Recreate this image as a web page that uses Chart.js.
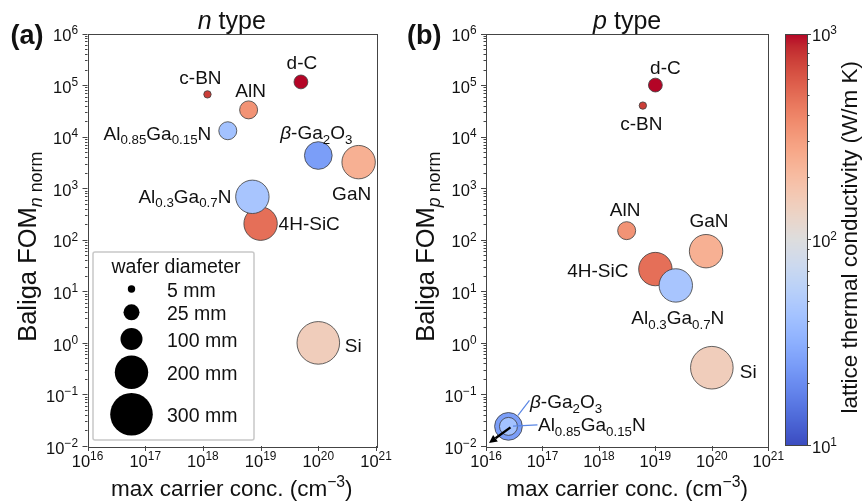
<!DOCTYPE html>
<html><head><meta charset="utf-8">
<script src="https://cdn.jsdelivr.net/npm/chart.js@4.4.0/dist/chart.umd.min.js"></script>
<style>
html,body{margin:0;padding:0;background:#fff;}
#wrap{position:relative;width:863px;height:502px;overflow:hidden;background:#fff;}
canvas{position:absolute;top:0;}
</style></head><body>
<div id="wrap">
<canvas id="ca" width="405" height="502" style="left:0px"></canvas>
<canvas id="cb" width="410" height="502" style="left:390px"></canvas>
<canvas id="cc" width="83" height="502" style="left:780px"></canvas>
</div>
<script>
// ---------------- DATA ----------------
// material properties
const materialNames   = ['d-C', 'c-BN', 'AlN', 'GaN', '4H-SiC', 'Si', 'β-Ga2O3', 'Al0.85Ga0.15N', 'Al0.3Ga0.7N'];
const materialLabels  = ['d-C', 'c-BN', 'AlN', 'GaN', '4H-SiC', 'Si', '~β~-Ga_2O_3', 'Al_{0.85}Ga_{0.15}N', 'Al_{0.3}Ga_{0.7}N'];
const thermalCond     = [2000, 750, 340, 240, 490, 150, 25, 42, 45];      // W/m K
const waferDiameter   = [20, 5, 50, 200, 200, 300, 150, 50, 200];         // mm

// (a) n type
const nMaterial = ['c-BN', 'AlN', 'd-C', 'Al0.85Ga0.15N', 'β-Ga2O3', 'GaN', '4H-SiC', 'Al0.3Ga0.7N', 'Si'];
const nCarrier  = [1.2e18, 6.2e18, 5e19, 2.7e18, 1e20, 5e20, 1e19, 7.2e18, 1e20];
const nFOM      = [6.6e4, 3.3e4, 1.15e5, 1.3e4, 4.3e3, 3.2e3, 205, 680, 1.0];

// (b) p type
const pMaterial = ['d-C', 'c-BN', 'AlN', 'GaN', '4H-SiC', 'Al0.3Ga0.7N', 'Si', 'β-Ga2O3', 'Al0.85Ga0.15N'];
const pCarrier  = [1e19, 6e18, 3.1e18, 7.9e19, 1e19, 2.3e19, 1e20, 2.5e16, 2.5e16];
const pFOM      = [1e5, 4e4, 150, 60, 27, 13, 0.33, 0.024, 0.024];

// legend (wafer diameter, mm)
const legendDiameters = [5, 25, 100, 200, 300];

// tick exponents
const xTickExps    = [16, 17, 18, 19, 20, 21];
const yTickExps    = [-2, -1, 0, 1, 2, 3, 4, 5, 6];
const cbarTickExps = [1, 2, 3];

// ---------------- STYLE / HELPERS ----------------
const FONT = "'Liberation Sans', Arial, Helvetica, sans-serif";
const TXT = '#111';
const SPINE = '#444';
const radiusAnchorsD = [5, 25, 100, 200, 300];
const radiusAnchorsR = [3.7, 8, 11, 16.7, 21.3];
function radiusFor(d) {
  const A = radiusAnchorsD, R = radiusAnchorsR;
  if (d <= A[0]) return R[0];
  for (let i = 0; i < A.length - 1; i++) {
    if (d <= A[i + 1]) return R[i] + (d - A[i]) / (A[i + 1] - A[i]) * (R[i + 1] - R[i]);
  }
  return R[R.length - 1];
}
const CW = [[59,76,192],[68,90,204],[77,104,215],[87,117,225],[98,130,234],[108,142,241],[119,154,247],[130,165,251],[141,176,254],[152,185,255],[163,194,255],[174,201,253],[184,208,249],[194,213,244],[204,217,238],[213,219,230],[221,221,221],[229,216,209],[236,211,197],[241,204,185],[245,196,173],[247,187,160],[247,177,148],[247,166,135],[244,154,123],[241,141,111],[236,127,99],[229,112,88],[222,96,77],[213,80,66],[203,62,56],[192,40,47],[180,4,38]];
function coolwarm(t) {
  t = Math.max(0, Math.min(1, t));
  const f = t * 32, i = Math.min(31, Math.floor(f)), r = f - i;
  const a = CW[i], b = CW[i + 1];
  return `rgb(${Math.round(a[0]+(b[0]-a[0])*r)},${Math.round(a[1]+(b[1]-a[1])*r)},${Math.round(a[2]+(b[2]-a[2])*r)})`;
}
const CBAR_MIN = 10, CBAR_MAX = 1000;
function tForK(k) {
  return (Math.log10(k) - Math.log10(CBAR_MIN)) / (Math.log10(CBAR_MAX) - Math.log10(CBAR_MIN));
}
const colorForK = k => coolwarm(tForK(k));
const idx = m => materialNames.indexOf(m);

function parseRich(s) {
  const segs = []; let italic = false, buf = '', i = 0;
  const push = (t, mode) => { if (t) segs.push({ t, mode, it: italic }); };
  while (i < s.length) {
    const c = s[i];
    if (c === '~') { push(buf, 'n'); buf = ''; italic = !italic; i++; continue; }
    if (c === '_' || c === '^') {
      push(buf, 'n'); buf = '';
      const mode = c === '_' ? 'sub' : 'sup';
      i++;
      let grp = '';
      if (s[i] === '{') { i++; while (i < s.length && s[i] !== '}') { grp += s[i]; i++; } i++; }
      else { grp = s[i]; i++; }
      let gb = '';
      for (const ch of grp) {
        if (ch === '~') { if (gb) segs.push({ t: gb, mode, it: italic }); gb = ''; italic = !italic; }
        else gb += ch;
      }
      if (gb) segs.push({ t: gb, mode, it: italic });
      continue;
    }
    buf += c; i++;
  }
  push(buf, 'n');
  return segs;
}
function drawRich(ctx, str, x, y, o) {
  const size = o.size, segs = parseRich(str);
  ctx.save();
  ctx.translate(x, y);
  if (o.rotate) ctx.rotate(o.rotate);
  let w = 0; const out = [];
  for (const s of segs) {
    const fs = s.mode === 'n' ? size : size * (o.scriptScale || 0.7);
    const font = `${s.it ? 'italic ' : ''}${o.bold ? 'bold ' : ''}${fs}px ${FONT}`;
    ctx.font = font;
    const sw = ctx.measureText(s.t).width;
    const dy = s.mode === 'sub' ? size * 0.24 : s.mode === 'sup' ? -size * 0.42 : 0;
    out.push({ t: s.t, font, x: w, dy }); w += sw;
  }
  const x0 = o.align === 'center' ? -w / 2 : o.align === 'right' ? -w : 0;
  ctx.fillStyle = o.color || TXT;
  ctx.textBaseline = 'alphabetic'; ctx.textAlign = 'left';
  const base = size * 0.36;
  for (const s of out) { ctx.font = s.font; ctx.fillText(s.t, x0 + s.x, base + s.dy); }
  ctx.restore();
}

function drawLogAxes(chart, cfg) {
  const ctx = chart.ctx, a = chart.chartArea, xs = chart.scales.x, ys = chart.scales.y;
  ctx.save();
  ctx.strokeStyle = SPINE; ctx.lineWidth = 1;
  ctx.strokeRect(Math.round(a.left) + 0.5, Math.round(a.top) + 0.5, Math.round(a.right - a.left), Math.round(a.bottom - a.top));
  ctx.beginPath();
  for (const e of xTickExps) {
    const px = Math.round(xs.getPixelForValue(Math.pow(10, e))) + 0.5;
    ctx.moveTo(px, a.bottom); ctx.lineTo(px, a.bottom + 5);
  }
  for (let k = 0; k < yTickExps.length; k++) {
    const e = yTickExps[k];
    const py = Math.round(ys.getPixelForValue(Math.pow(10, e))) + 0.5;
    ctx.moveTo(a.left, py); ctx.lineTo(a.left - 5, py);
    if (k < yTickExps.length - 1) {
      for (let m = 2; m <= 9; m++) {
        const qy = Math.round(ys.getPixelForValue(m * Math.pow(10, e))) + 0.5;
        ctx.moveTo(a.left, qy); ctx.lineTo(a.left - 2.5, qy);
      }
    }
  }
  ctx.stroke();
  ctx.restore();
  for (const e of xTickExps) {
    drawRich(ctx, '10^{' + String(e).replace('-', '−') + '}', xs.getPixelForValue(Math.pow(10, e)), a.bottom + 15, { size: 16.5, align: 'center', scriptScale: 0.72 });
  }
  for (const e of yTickExps) {
    drawRich(ctx, '10^{' + String(e).replace('-', '−') + '}', a.left - 9.5, ys.getPixelForValue(Math.pow(10, e)) + 1.8, { size: 16.5, align: 'right', scriptScale: 0.72 });
  }
  const cx = (a.left + a.right) / 2;
  drawRich(ctx, cfg.title, cx, 20, { size: 25, align: 'center' });
  drawRich(ctx, 'max carrier conc. (cm^{−3})', cx, 488, { size: 22.5, align: 'center' });
  drawRich(ctx, cfg.ylabel, a.left - 61, (a.top + a.bottom) / 2 + 7, { size: 25.5, align: 'center', rotate: -Math.PI / 2 });
  drawRich(ctx, cfg.panel, cfg.panelX, 34, { size: 27, bold: true, align: 'left' });
}

function drawLabels(chart, cfg) {
  const ctx = chart.ctx;
  const meta = chart.getDatasetMeta(0);
  cfg.materials.forEach((m, i) => {
    const pos = cfg.offsets[m]; if (!pos) return;
    const el = meta.data[i];
    drawRich(ctx, materialLabels[idx(m)], el.x + pos[0], el.y + pos[1], { size: 19, align: pos[2] });
  });
}

const axesPlugin = {
  id: 'axesPlugin',
  afterDraw(chart, args, opts) {
    drawLogAxes(chart, opts);
    drawLabels(chart, opts);
    if (opts.extra) opts.extra(chart);
  }
};

function makeBubble(id, materials, carr, fom, padding, pluginOpts) {
  return new Chart(document.getElementById(id), {
    type: 'bubble',
    data: {
      datasets: [{
        data: materials.map((m, i) => ({ x: carr[i], y: fom[i], r: radiusFor(waferDiameter[idx(m)]) })),
        backgroundColor: materials.map(m => colorForK(thermalCond[idx(m)])),
        borderColor: '#3c3c3c',
        borderWidth: 0.8,
        clip: false
      }]
    },
    options: {
      responsive: false, animation: false, devicePixelRatio: 1, events: [],
      layout: { padding },
      plugins: { legend: { display: false }, tooltip: { enabled: false }, axesPlugin: pluginOpts },
      scales: {
        x: { type: 'logarithmic', min: Math.pow(10, xTickExps[0]), max: Math.pow(10, xTickExps[xTickExps.length - 1]), display: false },
        y: { type: 'logarithmic', min: Math.pow(10, yTickExps[0]), max: Math.pow(10, yTickExps[yTickExps.length - 1]), display: false }
      }
    },
    plugins: [axesPlugin]
  });
}

// ---- panel (a) ----
makeBubble('ca', nMaterial, nCarrier, nFOM, { left: 87.5, right: 29, top: 33.5, bottom: 56 }, {
  title: '~n~ type', ylabel: 'Baliga FOM_{~n~ norm}', panel: '(a)', panelX: 10.5, materials: nMaterial,
  offsets: {
    'c-BN': [-7, -17, 'center'], 'AlN': [2, -20, 'center'], 'd-C': [1, -19.5, 'center'],
    'Al0.85Ga0.15N': [-16.5, 2, 'right'], 'β-Ga2O3': [-2, -23, 'center'], 'GaN': [-7, 31.5, 'center'],
    'Al0.3Ga0.7N': [-21, -1, 'right'], '4H-SiC': [18, -1, 'left'], 'Si': [26.5, 2, 'left']
  },
  extra(chart) {
    const ctx = chart.ctx, a = chart.chartArea;
    const bx = a.left + 5.5, by = 252, bw = 161, bh = a.bottom - 6 - 252;
    ctx.save();
    ctx.fillStyle = 'rgba(255,255,255,0.9)';
    ctx.strokeStyle = '#c8c8c8'; ctx.lineWidth = 1.5;
    ctx.beginPath(); ctx.roundRect(bx, by, bw, bh, 2); ctx.fill(); ctx.stroke();
    ctx.restore();
    drawRich(ctx, 'wafer diameter', bx + 83, 266, { size: 19.5, align: 'center' });
    const rowsY = [289, 312.3, 339, 372.3, 414.3];
    legendDiameters.forEach((d, i) => {
      ctx.save(); ctx.fillStyle = '#000';
      ctx.beginPath(); ctx.arc(bx + 38.5, rowsY[i], radiusFor(d), 0, Math.PI * 2); ctx.fill(); ctx.restore();
      drawRich(ctx, d + ' mm', bx + 74, rowsY[i] + 1, { size: 19.5, align: 'left' });
    });
  }
});

// ---- panel (b) ----
makeBubble('cb', pMaterial, pCarrier, pFOM, { left: 96, right: 31.7, top: 33.5, bottom: 56 }, {
  title: '~p~ type', ylabel: 'Baliga FOM_{~p~ norm}', panel: '(b)', panelX: 17, materials: pMaterial,
  offsets: {
    'd-C': [10, -18, 'center'], 'c-BN': [-1.5, 18, 'center'], 'AlN': [-1.5, -22, 'center'],
    'GaN': [3, -31, 'center'], '4H-SiC': [-27, 1, 'right'], 'Al0.3Ga0.7N': [2, 32, 'center'],
    'Si': [28, 3, 'left'], 'β-Ga2O3': [21.5, -25, 'left'], 'Al0.85Ga0.15N': [29.5, -2, 'left']
  },
  extra(chart) {
    const ctx = chart.ctx, a = chart.chartArea, meta = chart.getDatasetMeta(0);
    const el = meta.data[pMaterial.indexOf('β-Ga2O3')];
    ctx.save();
    ctx.strokeStyle = '#5a86e4'; ctx.lineWidth = 1.2;
    ctx.beginPath();
    ctx.moveTo(el.x + 21, el.y - 26); ctx.lineTo(el.x + 9.5, el.y - 11);
    ctx.moveTo(el.x + 29, el.y - 1.5); ctx.lineTo(el.x + 4.5, el.y - 0.3);
    ctx.stroke();
    const x0 = el.x + 2, y0 = el.y + 1, x1 = a.left + 3, y1 = a.bottom - 3;
    const ang = Math.atan2(y1 - y0, x1 - x0);
    const hl = 8, hw = 4;
    const bxp = x1 - hl * Math.cos(ang), byp = y1 - hl * Math.sin(ang);
    ctx.strokeStyle = '#000'; ctx.fillStyle = '#000'; ctx.lineWidth = 2.4;
    ctx.beginPath(); ctx.moveTo(x0, y0); ctx.lineTo(bxp, byp); ctx.stroke();
    ctx.beginPath();
    ctx.moveTo(x1, y1);
    ctx.lineTo(bxp + hw * Math.sin(ang), byp - hw * Math.cos(ang));
    ctx.lineTo(bxp - hw * Math.sin(ang), byp + hw * Math.cos(ang));
    ctx.closePath(); ctx.fill();
    ctx.restore();
  }
});

// ---- colorbar ----
const cbarPlugin = {
  id: 'cbarPlugin',
  afterDraw(chart) {
    const ctx = chart.ctx, a = chart.chartArea, ys = chart.scales.y;
    ctx.save();
    const top = Math.round(a.top), bot = Math.round(a.bottom);
    for (let py = top; py < bot; py++) {
      const v = ys.getValueForPixel(py + 0.5);
      ctx.fillStyle = colorForK(v);
      ctx.fillRect(a.left, py, a.right - a.left, 1);
    }
    ctx.strokeStyle = SPINE; ctx.lineWidth = 1;
    ctx.strokeRect(Math.round(a.left) + 0.5, top + 0.5, Math.round(a.right - a.left), bot - top);
    ctx.beginPath();
    for (let k = 0; k < cbarTickExps.length; k++) {
      const e = cbarTickExps[k];
      const py = Math.round(ys.getPixelForValue(Math.pow(10, e))) + 0.5;
      ctx.moveTo(a.right, py); ctx.lineTo(a.right + 4, py);
      if (k < cbarTickExps.length - 1) {
        for (let m = 2; m <= 9; m++) {
          const qy = Math.round(ys.getPixelForValue(m * Math.pow(10, e))) + 0.5;
          ctx.moveTo(a.right, qy); ctx.lineTo(a.right + 2.5, qy);
        }
      }
    }
    ctx.stroke();
    ctx.restore();
    for (const e of cbarTickExps) {
      drawRich(ctx, '10^{' + e + '}', a.right + 5, ys.getPixelForValue(Math.pow(10, e)) + 1.8, { size: 16.5, align: 'left', scriptScale: 0.72 });
    }
    drawRich(ctx, 'lattice thermal conductivity (W/m K)', a.right + 42, (a.top + a.bottom) / 2 - 2, { size: 22.5, align: 'center', rotate: -Math.PI / 2 });
  }
};
new Chart(document.getElementById('cc'), {
  type: 'scatter',
  data: { datasets: [{ data: [] }] },
  options: {
    responsive: false, animation: false, devicePixelRatio: 1, events: [],
    layout: { padding: { left: 5, right: 56, top: 33.5, bottom: 57 } },
    plugins: { legend: { display: false }, tooltip: { enabled: false } },
    scales: {
      x: { type: 'linear', min: 0, max: 1, display: false },
      y: { type: 'logarithmic', min: CBAR_MIN, max: CBAR_MAX, display: false }
    }
  },
  plugins: [cbarPlugin]
});
</script>
</body></html>
